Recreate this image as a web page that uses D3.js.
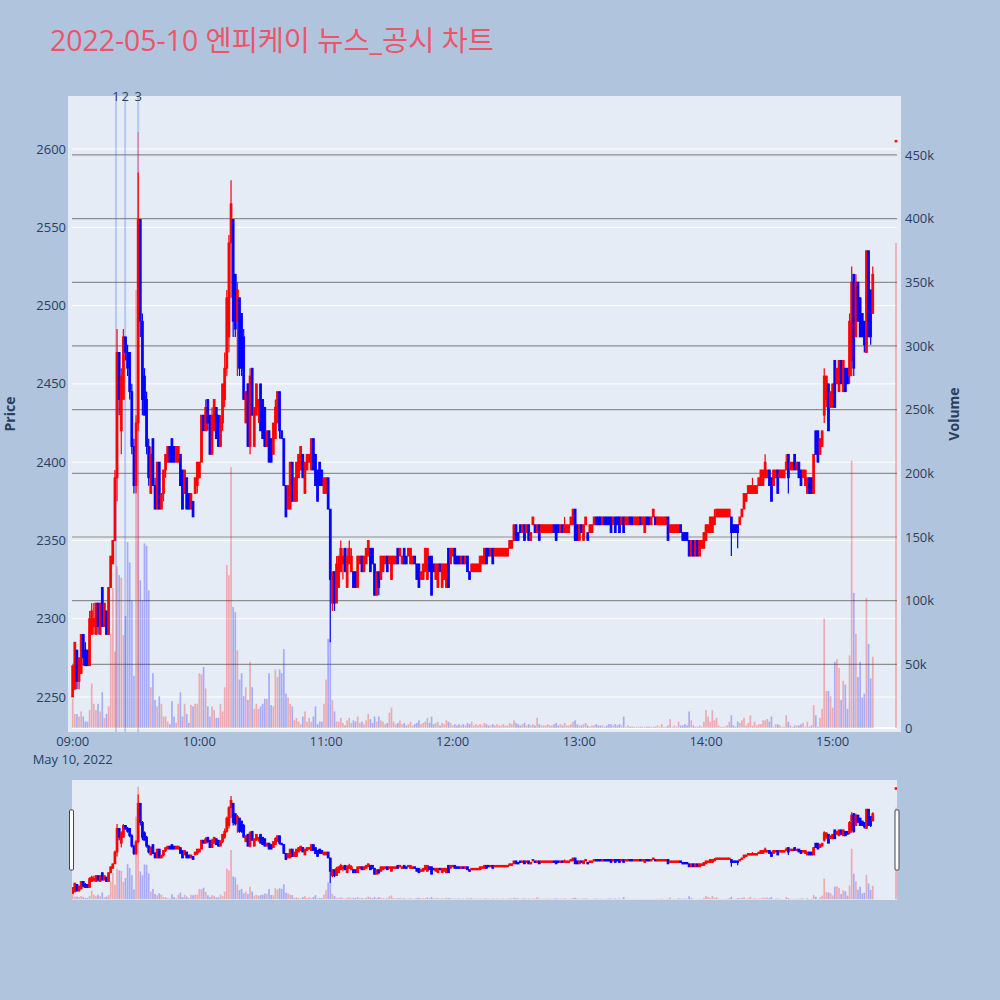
<!DOCTYPE html>
<html>
<head>
<meta charset="utf-8">
<script src="https://cdn.jsdelivr.net/npm/d3@7"></script>
<style>
  html, body { margin: 0; padding: 0; background: #b0c4de; }
  svg { display: block; font-family: "Open Sans", "Noto Sans CJK KR", sans-serif; }
</style>
</head>
<body>
<svg id="chart" width="1000" height="1000"></svg>
<script>
const titleText = '2022-05-10 엔피케이 뉴스_공시 차트';
const sessionStart = '2022-05-10 09:00';
// one row per minute from 09:00 : [open, high, low, close, volume (thousands)]
const minuteBars = [
  [2250,2270,2250,2270,23],[2255,2285,2255,2285,11],[2280,2280,2255,2260,11],[2260,2275,2255,2275,9],[2265,2290,2265,2290,13],[2290,2290,2270,2275,9],[2280,2285,2270,2270,5],[2280,2280,2270,2270,5],[2270,2305,2270,2300,14],[2290,2310,2290,2305,35],
  [2295,2310,2290,2300,19],[2290,2310,2290,2310,14],[2310,2310,2290,2295,19],[2290,2310,2290,2310,13],[2320,2320,2295,2295,28],[2295,2310,2295,2310,8],[2305,2305,2290,2290,11],[2290,2320,2290,2320,17],[2320,2340,2320,2340,74],[2335,2350,2335,2350,110],
  [2350,2395,2350,2390,60],[2390,2485,2375,2470,127],[2470,2470,2430,2440,120],[2420,2460,2405,2455,118],[2440,2485,2440,2480,73],[2480,2480,2465,2470,88],[2470,2475,2455,2460,146],[2470,2470,2440,2445,130],[2445,2450,2405,2410,100],[2410,2415,2380,2385,41],
  [2385,2430,2380,2425,344],[2425,2585,2420,2555,468],[2555,2555,2480,2490,116],[2490,2495,2430,2440,100],[2455,2460,2430,2430,145],[2440,2445,2405,2410,143],[2410,2415,2385,2390,108],[2380,2410,2380,2405,32],[2415,2415,2385,2385,43],[2385,2390,2370,2370,22],
  [2370,2400,2370,2400,17],[2400,2400,2370,2370,25],[2370,2380,2370,2380,19],[2380,2395,2375,2395,9],[2395,2405,2390,2405,9],[2400,2410,2400,2410,5],[2410,2410,2400,2400,3],[2415,2415,2400,2400,21],[2410,2410,2400,2400,9],[2400,2410,2400,2410,4],
  [2400,2410,2400,2410,19],[2405,2405,2385,2385,28],[2395,2395,2370,2370,9],[2380,2395,2380,2395,19],[2390,2390,2370,2370,11],[2380,2380,2370,2370,4],[2370,2380,2370,2380,18],[2375,2375,2365,2365,17],[2380,2390,2380,2390,19],[2385,2400,2380,2400,19],
  [2390,2400,2390,2400,43],[2400,2430,2400,2430,42],[2430,2430,2420,2420,48],[2420,2440,2420,2435,31],[2440,2440,2420,2425,17],[2430,2430,2405,2405,9],[2405,2435,2405,2430,17],[2420,2440,2420,2440,14],[2435,2435,2415,2415,8],[2430,2430,2410,2410,8],
  [2410,2430,2410,2425,19],[2425,2450,2420,2450,13],[2440,2470,2435,2460,32],[2460,2510,2455,2505,128],[2480,2545,2470,2540,120],[2540,2580,2505,2565,205],[2555,2555,2480,2490,95],[2520,2520,2480,2485,91],[2490,2515,2455,2510,61],[2505,2505,2455,2460,38],
  [2495,2495,2455,2460,43],[2480,2485,2440,2440,25],[2425,2445,2425,2445,32],[2450,2450,2410,2410,22],[2410,2460,2405,2455,52],[2460,2460,2430,2430,32],[2410,2435,2410,2435,15],[2430,2450,2430,2450,19],[2435,2440,2425,2440,15],[2450,2450,2420,2420,17],
  [2440,2440,2415,2415,19],[2435,2435,2410,2410,23],[2410,2420,2410,2420,23],[2420,2420,2400,2400,43],[2415,2415,2400,2400,18],[2405,2425,2405,2425,17],[2415,2440,2415,2435,46],[2425,2445,2425,2445,40],[2445,2445,2415,2420,46],[2420,2420,2415,2415,43],
  [2415,2415,2385,2385,62],[2385,2385,2365,2365,27],[2370,2385,2370,2385,24],[2370,2400,2370,2400,19],[2400,2400,2375,2375,17],[2375,2390,2375,2390,6],[2375,2400,2375,2400,8],[2390,2405,2390,2405,5],[2395,2410,2395,2410,3],[2405,2405,2390,2390,9],
  [2380,2400,2380,2400,13],[2395,2405,2395,2405,5],[2400,2405,2400,2405,8],[2395,2415,2395,2415,5],[2415,2415,2395,2395,9],[2405,2405,2385,2385,17],[2395,2395,2375,2375,3],[2400,2400,2385,2385,5],[2395,2395,2385,2385,5],[2380,2390,2380,2390,19],
  [2380,2390,2380,2390,38],[2390,2390,2370,2370,70],[2370,2370,2285,2325,69],[2310,2330,2305,2330,22],[2330,2330,2305,2310,13],[2310,2340,2310,2335,5],[2320,2340,2320,2340,5],[2330,2350,2330,2345,8],[2335,2345,2325,2340,4],[2345,2345,2330,2330,2],
  [2320,2345,2320,2340,6],[2335,2350,2335,2345,8],[2330,2345,2330,2340,4],[2330,2330,2320,2320,6],[2330,2330,2320,2320,5],[2320,2340,2320,2340,9],[2335,2340,2335,2340,4],[2340,2340,2330,2330,5],[2330,2340,2330,2340,3],[2335,2345,2335,2345,6],
  [2340,2350,2340,2350,11],[2345,2345,2330,2330,7],[2345,2345,2335,2335,4],[2335,2335,2315,2315,9],[2315,2330,2315,2330,5],[2330,2330,2315,2320,9],[2325,2340,2325,2340,6],[2330,2340,2330,2340,5],[2335,2340,2335,2340,3],[2340,2340,2330,2330,4],
  [2335,2340,2335,2340,12],[2325,2340,2325,2340,16],[2335,2340,2335,2340,5],[2335,2340,2335,2340,3],[2345,2345,2335,2335,4],[2340,2345,2340,2345,6],[2335,2340,2335,2340,3],[2345,2345,2335,2335,4],[2340,2340,2335,2335,2],[2340,2345,2340,2345,3],
  [2335,2345,2335,2345,5],[2335,2340,2335,2340,2],[2340,2340,2335,2335,3],[2335,2335,2325,2325,4],[2335,2335,2320,2320,6],[2325,2330,2325,2330,3],[2325,2335,2325,2335,4],[2330,2345,2330,2345,5],[2325,2345,2325,2345,8],[2340,2340,2330,2330,4],
  [2340,2340,2315,2315,9],[2335,2335,2330,2330,3],[2325,2335,2325,2335,4],[2320,2335,2320,2335,5],[2335,2335,2330,2330,2],[2320,2335,2320,2335,4],[2325,2335,2325,2335,3],[2320,2335,2320,2335,6],[2345,2345,2320,2320,5],[2335,2345,2335,2345,4],
  [2340,2345,2340,2345,2],[2345,2345,2335,2335,3],[2340,2340,2335,2335,2],[2340,2340,2335,2335,3],[2335,2340,2335,2340,2],[2340,2340,2335,2335,3],[2335,2340,2335,2340,2],[2340,2340,2330,2330,4],[2330,2330,2325,2325,3],[2330,2335,2330,2335,5],
  [2330,2335,2330,2335,2],[2330,2335,2330,2335,3],[2330,2335,2330,2335,2],[2330,2340,2330,2340,3],[2335,2340,2335,2340,2],[2335,2345,2335,2345,4],[2345,2345,2335,2335,3],[2345,2345,2340,2340,2],[2340,2345,2340,2345,2],[2345,2345,2335,2335,3],
  [2340,2345,2340,2345,2],[2340,2345,2340,2345,3],[2340,2345,2340,2345,2],[2340,2345,2340,2345,2],[2340,2345,2340,2345,3],[2340,2345,2340,2345,2],[2340,2345,2340,2345,2],[2345,2350,2345,2350,4],[2345,2350,2345,2350,3],[2350,2360,2350,2360,6],
  [2360,2360,2350,2350,4],[2355,2355,2350,2350,3],[2360,2360,2355,2355,2],[2355,2360,2355,2360,3],[2360,2360,2350,2350,4],[2355,2360,2355,2360,2],[2360,2360,2350,2350,3],[2350,2355,2350,2355,2],[2360,2365,2360,2365,3],[2360,2360,2355,2355,2],
  [2355,2360,2355,2360,8],[2360,2360,2350,2350,3],[2355,2360,2355,2360,2],[2355,2360,2355,2360,2],[2355,2360,2355,2360,2],[2355,2360,2355,2360,3],[2355,2360,2355,2360,2],[2355,2360,2355,2360,2],[2360,2360,2355,2355,3],[2360,2360,2350,2350,4],
  [2360,2360,2355,2355,2],[2355,2360,2355,2360,3],[2360,2360,2355,2355,2],[2355,2365,2355,2360,4],[2355,2360,2355,2360,2],[2355,2360,2355,2360,2],[2360,2365,2360,2365,3],[2360,2370,2360,2370,5],[2370,2370,2350,2350,6],[2360,2360,2350,2350,3],
  [2350,2360,2350,2360,2],[2360,2360,2355,2355,2],[2350,2360,2350,2360,3],[2360,2365,2360,2365,4],[2355,2355,2350,2350,2],[2355,2360,2355,2360,1],[2355,2360,2355,2360,2],[2360,2365,2360,2365,2],[2365,2365,2360,2360,3],[2365,2365,2360,2360,2],
  [2365,2365,2360,2360,2],[2360,2365,2360,2365,2],[2365,2365,2360,2360,1],[2365,2365,2360,2360,2],[2365,2365,2360,2360,3],[2365,2365,2355,2355,3],[2360,2365,2360,2365,2],[2365,2365,2355,2355,3],[2365,2365,2360,2360,2],[2365,2365,2355,2355,3],
  [2360,2365,2360,2365,2],[2365,2365,2355,2355,9],[2360,2365,2360,2365,1],[2360,2365,2360,2365,2],[2365,2365,2360,2360,1],[2365,2365,2360,2360,1],[2360,2365,2360,2365,1],[2360,2365,2360,2365,1],[2360,2365,2360,2365,1],[2365,2365,2360,2360,1],
  [2360,2365,2360,2365,1],[2355,2365,2355,2365,1],[2365,2365,2360,2360,1],[2365,2365,2360,2360,1],[2360,2365,2360,2365,1],[2365,2370,2365,2370,1],[2365,2365,2360,2360,1],[2360,2365,2360,2365,2],[2360,2365,2360,2365,1],[2360,2365,2360,2365,3],
  [2360,2365,2360,2365,1],[2360,2365,2360,2365,1],[2365,2365,2350,2350,2],[2355,2360,2355,2360,7],[2355,2360,2355,2360,1],[2355,2360,2355,2360,2],[2355,2360,2355,2360,1],[2355,2360,2355,2360,5],[2360,2360,2355,2355,2],[2355,2355,2350,2350,2],
  [2355,2355,2350,2350,3],[2355,2355,2350,2350,2],[2350,2350,2340,2340,13],[2340,2350,2340,2350,6],[2350,2350,2340,2340,2],[2340,2350,2340,2350,1],[2350,2350,2340,2340,1],[2340,2350,2340,2350,2],[2345,2350,2345,2350,1],[2345,2355,2345,2355,5],
  [2350,2360,2350,2360,14],[2355,2360,2355,2360,9],[2355,2365,2355,2365,5],[2355,2365,2355,2365,14],[2360,2370,2360,2365,6],[2365,2370,2365,2370,8],[2365,2370,2365,2370,2],[2365,2370,2365,2370,1],[2365,2370,2365,2370,1],[2365,2370,2365,2370,1],
  [2365,2370,2365,2370,2],[2365,2370,2365,2370,5],[2365,2365,2340,2355,10],[2360,2360,2355,2355,2],[2360,2360,2355,2355,1],[2360,2360,2345,2355,5],[2360,2365,2360,2365,4],[2365,2370,2365,2370,6],[2370,2380,2370,2380,8],[2375,2380,2375,2380,2],
  [2380,2385,2380,2385,4],[2380,2385,2380,2385,10],[2380,2390,2380,2385,2],[2380,2385,2380,2385,5],[2380,2385,2380,2385,2],[2385,2390,2385,2390,3],[2385,2395,2385,2395,3],[2385,2395,2385,2395,6],[2390,2405,2390,2400,6],[2390,2395,2390,2395,7],
  [2395,2395,2385,2385,5],[2390,2390,2375,2375,9],[2385,2395,2385,2395,1],[2390,2395,2390,2395,3],[2395,2395,2380,2380,3],[2390,2395,2390,2395,2],[2390,2395,2390,2395,1],[2390,2395,2390,2395,1],[2395,2405,2395,2400,10],[2405,2405,2380,2390,5],
  [2395,2400,2395,2400,2],[2395,2400,2395,2400,1],[2405,2405,2395,2395,2],[2395,2400,2395,2400,2],[2400,2400,2390,2390,2],[2395,2395,2385,2385,3],[2390,2395,2390,2395,4],[2385,2395,2385,2395,1],[2380,2390,2380,2390,5],[2390,2390,2380,2380,1],
  [2390,2390,2380,2380,2],[2380,2405,2380,2405,18],[2420,2420,2405,2405,10],[2420,2420,2400,2400,1],[2405,2415,2405,2415,8],[2410,2420,2410,2420,15],[2430,2460,2425,2455,86],[2440,2455,2435,2455,29],[2450,2450,2420,2420,29],[2435,2445,2435,2445,25],
  [2435,2450,2435,2450,16],[2465,2465,2435,2435,52],[2450,2460,2450,2460,54],[2445,2465,2445,2465,47],[2465,2465,2450,2450,22],[2445,2465,2445,2465,37],[2460,2460,2445,2445,34],[2460,2460,2450,2450,15],[2455,2495,2450,2490,57],[2465,2525,2455,2515,210],
  [2520,2520,2455,2460,106],[2480,2520,2480,2515,74],[2515,2515,2490,2490,40],[2505,2505,2480,2480,52],[2495,2495,2480,2480,24],[2490,2490,2470,2475,27],[2470,2535,2470,2535,102],[2535,2535,2480,2480,66],[2510,2510,2475,2480,39],[2495,2525,2495,2520,56]
];
// closing auction print
const closingBar = ['2022-05-10 15:30', 2605, 2605, 2605, 2605, 381];
// news / disclosure markers
const newsTimes = ['2022-05-10 09:20:30', '2022-05-10 09:24:50', '2022-05-10 09:31:00'];
const newsLabels = ['1', '2', '3'];
const priceTicks = [2250, 2300, 2350, 2400, 2450, 2500, 2550, 2600];
const volumeTicks = [0, 50, 100, 150, 200, 250, 300, 350, 400, 450];

const UP = '#ff0000', DOWN = '#0000ff';
const UP_VOL = 'rgba(255,0,0,0.28)', DOWN_VOL = 'rgba(0,0,255,0.27)';
const TXT = '#2a3f5f';

const svg = d3.select('#chart');
const plot = { left: 68, right: 901, top: 96, bottom: 732 };
const grid = { left: 72, right: 897 };
const rs = { left: 72, right: 897, top: 780, bottom: 900 };

const parseMin = d3.timeParse('%Y-%m-%d %H:%M');
const parseSec = d3.timeParse('%Y-%m-%d %H:%M:%S');
const start = parseMin(sessionStart);
const bars = minuteBars.map(function (r, i) {
  return { t: d3.timeMinute.offset(start, i), o: r[0], h: r[1], l: r[2], c: r[3], v: r[4] };
});
bars.push({ t: parseMin(closingBar[0]), o: closingBar[1], h: closingBar[2], l: closingBar[3], c: closingBar[4], v: closingBar[5] });

const x = d3.scaleTime()
  .domain([d3.timeSecond.offset(start, -134), d3.timeSecond.offset(bars[bars.length - 1].t, 142)])
  .range([plot.left, plot.right]);
const yP = d3.scaleLinear().domain([2227.65, 2633.85]).range([plot.bottom, plot.top]);
const yV = d3.scaleLinear().domain([-3.14, 496.3]).range([plot.bottom, plot.top]);
const yPs = d3.scaleLinear().domain(yP.domain()).range([rs.bottom, rs.top]);
const yVs = d3.scaleLinear().domain(yV.domain()).range([rs.bottom, rs.top]);

const up = function (d) { return d.c >= d.o; };

// ---- title ----
svg.append('text').attr('x', 50).attr('y', 51).attr('font-size', 28.4).attr('fill', '#ed546a').text(titleText);

// ---- main plot background + grid ----
svg.append('rect').attr('x', plot.left).attr('y', plot.top)
  .attr('width', plot.right - plot.left).attr('height', plot.bottom - plot.top).attr('fill', '#e5ecf6');

const hours = x.ticks(d3.timeHour.every(1)).filter(function (d) { return d >= start; });
const gGrid = svg.append('g');
gGrid.selectAll('line.yg').data(priceTicks).enter().append('line')
  .attr('x1', grid.left).attr('x2', grid.right)
  .attr('y1', function (d) { return yP(d); }).attr('y2', function (d) { return yP(d); })
  .attr('stroke', '#fff').attr('stroke-width', 1);
gGrid.selectAll('line.vg').data(volumeTicks.filter(function (d) { return d > 0; })).enter().append('line')
  .attr('x1', grid.left).attr('x2', grid.right)
  .attr('y1', function (d) { return yV(d); }).attr('y2', function (d) { return yV(d); })
  .attr('stroke', '#8e8e8e').attr('stroke-width', 1.2);
gGrid.append('line').attr('x1', grid.left).attr('x2', grid.right)
  .attr('y1', yV(0)).attr('y2', yV(0)).attr('stroke', '#fff').attr('stroke-width', 2);

// ---- news markers ----
const news = newsTimes.map(function (s, i) { return { t: parseSec(s), label: newsLabels[i] }; });
svg.append('g').selectAll('line').data(news).enter().append('line')
  .attr('x1', function (d) { return x(d.t); }).attr('x2', function (d) { return x(d.t); })
  .attr('y1', plot.top).attr('y2', plot.bottom)
  .attr('stroke', 'rgba(65,105,225,0.28)').attr('stroke-width', 2);

svg.append('clipPath').attr('id', 'clipMain').append('rect')
  .attr('x', plot.left).attr('y', plot.top).attr('width', plot.right - plot.left).attr('height', plot.bottom - plot.top);
svg.append('clipPath').attr('id', 'clipRs').append('rect')
  .attr('x', rs.left).attr('y', rs.top).attr('width', rs.right - rs.left).attr('height', rs.bottom - rs.top);

function drawCandles(g, ys, bodyW, wickW) {
  g.selectAll('line.wick').data(bars).enter().append('line')
    .attr('x1', function (d) { return x(d.t); }).attr('x2', function (d) { return x(d.t); })
    .attr('y1', function (d) { return ys(d.h); }).attr('y2', function (d) { return ys(d.l); })
    .attr('stroke', function (d) { return up(d) ? UP : DOWN; }).attr('stroke-width', wickW);
  g.selectAll('rect.body').data(bars).enter().append('rect')
    .attr('x', function (d) { return x(d.t) - bodyW / 2; })
    .attr('width', bodyW)
    .attr('y', function (d) { return ys(Math.max(d.o, d.c)) - (d.o === d.c ? 0.8 : 0); })
    .attr('height', function (d) { return Math.max(1.6, Math.abs(ys(d.o) - ys(d.c))); })
    .attr('fill', function (d) { return up(d) ? UP : DOWN; })
    .attr('stroke', function (d) { return up(d) ? UP : DOWN; }).attr('stroke-width', 0.8);
}
function drawVolume(g, ys) {
  g.selectAll('rect.vol').data(bars).enter().append('rect')
    .attr('x', function (d) { return x(d.t) - 0.85; }).attr('width', 1.7)
    .attr('y', function (d) { return ys(d.v); })
    .attr('height', function (d) { return ys(0) - ys(d.v); })
    .attr('fill', function (d) { return up(d) ? UP_VOL : DOWN_VOL; });
}

const gMain = svg.append('g').attr('clip-path', 'url(#clipMain)');
drawCandles(gMain, yP, 1.9, 1.2);
drawVolume(gMain, yV);

// ---- news labels ----
svg.append('g').selectAll('text').data(news).enter().append('text')
  .attr('x', function (d) { return x(d.t); }).attr('y', 100.5)
  .attr('text-anchor', 'middle').attr('font-size', 13).attr('fill', TXT)
  .text(function (d) { return d.label; });

// ---- axes labels ----
svg.append('g').selectAll('text').data(priceTicks).enter().append('text')
  .attr('x', 66).attr('y', function (d) { return yP(d); }).attr('dy', '0.35em')
  .attr('text-anchor', 'end').attr('font-size', 13).attr('fill', TXT).text(function (d) { return d; });
svg.append('g').selectAll('text').data(volumeTicks).enter().append('text')
  .attr('x', 905).attr('y', function (d) { return yV(d); }).attr('dy', '0.35em')
  .attr('text-anchor', 'start').attr('font-size', 13).attr('fill', TXT)
  .text(function (d) { return d === 0 ? '0' : d + 'k'; });
const fmtHM = d3.timeFormat('%H:%M');
svg.append('g').selectAll('text').data(hours).enter().append('text')
  .attr('x', function (d) { return x(d); }).attr('y', 746)
  .attr('text-anchor', 'middle').attr('font-size', 13).attr('fill', TXT).text(fmtHM);
svg.append('text').attr('x', x(start)).attr('y', 763.5)
  .attr('text-anchor', 'middle').attr('font-size', 13).attr('fill', TXT)
  .text(d3.timeFormat('%b %-d, %Y')(start));

svg.append('text').attr('transform', 'translate(15,' + ((plot.top + plot.bottom) / 2) + ') rotate(-90)')
  .attr('text-anchor', 'middle').attr('font-size', 14).attr('font-weight', 'bold').attr('fill', TXT).text('Price');
svg.append('text').attr('transform', 'translate(959,' + ((plot.top + plot.bottom) / 2) + ') rotate(-90)')
  .attr('text-anchor', 'middle').attr('font-size', 14).attr('font-weight', 'bold').attr('fill', TXT).text('Volume');

// ---- range slider ----
svg.append('rect').attr('x', rs.left).attr('y', rs.top)
  .attr('width', rs.right - rs.left).attr('height', rs.bottom - rs.top).attr('fill', '#e5ecf6');
const gRs = svg.append('g').attr('clip-path', 'url(#clipRs)');
drawCandles(gRs, yPs, 1.9, 1.2);
drawVolume(gRs, yVs);
[rs.left - 2.5, rs.right - 2].forEach(function (gx) {
  svg.append('rect').attr('x', gx).attr('y', 810).attr('width', 4).attr('height', 60)
    .attr('rx', 1).attr('fill', '#fff').attr('stroke', '#444').attr('stroke-width', 1);
});
</script>
</body>
</html>
